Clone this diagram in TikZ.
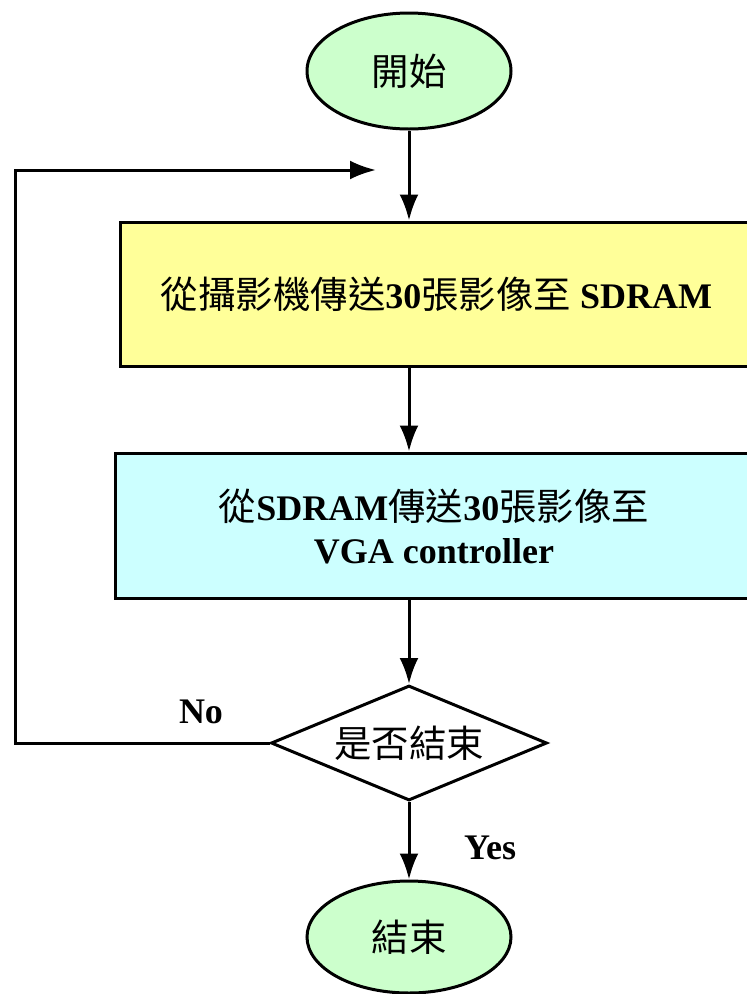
\documentclass[tikz,border=0pt]{standalone}
\usepackage{fontspec}
\setmainfont{Liberation Serif}
\newfontfamily\zh[Scale=1.04]{Noto Sans CJK TC}
\usetikzlibrary{positioning,shapes.geometric,arrows.meta}
\definecolor{termgreen}{HTML}{CCFFCC}
\definecolor{boxyellow}{HTML}{FFFF99}
\definecolor{boxcyan}{HTML}{CCFFFF}

\begin{document}
\begin{tikzpicture}[x=1pt,y=-1pt,font=\fontsize{36}{43}\selectfont] % 1pt per pixel
            \tikzstyle{startstop} = [ellipse, minimum width=204pt, minimum height=116pt, inner sep=0pt, draw=black, line width=3pt, fill=termgreen]
            \tikzstyle{process} = [rectangle, minimum height=144pt, inner sep=0pt, draw=black, line width=3pt]
            \tikzstyle{decision} = [diamond, minimum width=276pt, minimum height=115pt, inner sep=0pt, shape aspect=2.4, draw=black, line width=3pt, fill=white]
            \tikzstyle{arrow} = [line width=3pt,-{Latex[length=26pt,width=19pt]}]
            \tikzstyle{answer} = [font=\fontsize{36}{43}\selectfont\bfseries]

            \path[use as bounding box] (0,0) rectangle (747,994);
            \clip (0,0) rectangle (747,994);

            % Nodes
            \node (start) [startstop] at (409,71) {\zh 開始};
            \node (box1) [process, fill=boxyellow, minimum width=680pt] at (460,294) {};
            \node (box1text) at (436.5,294) {{\zh 從攝影機傳送}\textbf{30}{\zh 張影像至} \textbf{SDRAM}};
            \node (box2) [process, fill=boxcyan, minimum width=685pt, minimum height=145pt] at (457.5,525.5) {};
            \node (box2text) [align=center] at (434,527) {{\zh 從}\textbf{SDRAM}{\zh 傳送}\textbf{30}{\zh 張影像至}\\\textbf{VGA controller}};
            \node (dec) [decision] at (409,743) {\zh 是否結束};
            \node (stop) [startstop, minimum height=112pt] at (409,937) {\zh 結束};

            % Labels
            \node (nolabel) [answer] at (201,712) {No};
            \node (yeslabel) [answer] at (490,848) {Yes};

            % Loop back
            \coordinate (loopcorner) at (15,170);
            \coordinate (loopend) at (376,170);

            % Arrows
            \draw [arrow] (start) -- (start |- box1.north);
            \draw [arrow] (start |- box1.south) -- (start |- box2.north);
            \draw [arrow] (start |- box2.south) -- (dec);
            \draw [arrow] (dec) -- (stop);
            \draw [arrow] (dec.west) -| (loopcorner) -- (loopend);
        \end{tikzpicture}
\end{document}
